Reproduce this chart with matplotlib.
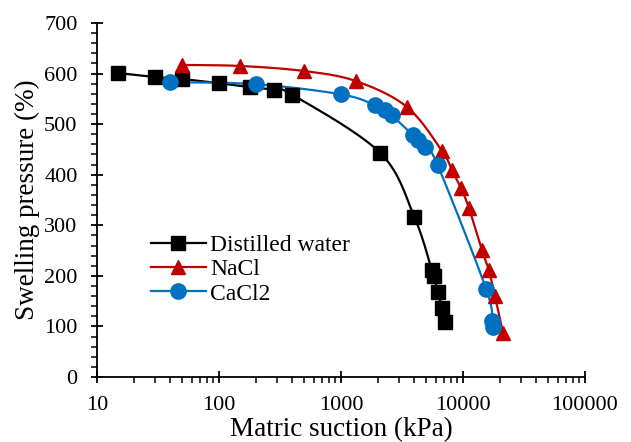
import numpy as np
import matplotlib
matplotlib.use('Agg')
import matplotlib.pyplot as plt
from matplotlib.ticker import MultipleLocator, FixedLocator, NullFormatter

plt.rcParams['font.family'] = ['Liberation Serif', 'DejaVu Serif']

# data
water_x = [15, 30, 50, 100, 180, 280, 400, 2100, 4000, 5570, 5780, 6240, 6730, 7110]
water_y = [601, 593, 589, 581, 573, 568, 558, 443, 316, 211, 199, 168, 137, 108]

nacl_x = [50, 150, 500, 1330, 3475, 6730, 8130, 9640, 11200, 14300, 16300, 18300, 21300]
nacl_y = [617, 615, 605, 585, 534, 447, 409, 373, 334, 251, 211, 160, 87]

cacl_x = [40, 200, 1000, 1900, 2300, 2600, 3900, 4300, 4900, 6200, 15500, 17300, 17700]
cacl_y = [583, 579, 559, 538, 528, 518, 478, 468, 455, 419, 174, 111, 99]

labels = ['Distilled water', 'NaCl', 'CaCl2']
colors = ['black', '#C00000', '#0070C0']
markers = ['s', '^', 'o']


def smooth(xs, ys, n=20):
    # catmull-rom in (log x, y), like excel smoothed lines
    px = np.log10(np.array(xs, dtype=float))
    py = np.array(ys, dtype=float)
    P = np.column_stack([px, py])
    P = np.vstack([P[0], P, P[-1]])
    out = []
    for i in range(1, len(P) - 2):
        p0, p1, p2, p3 = P[i - 1], P[i], P[i + 1], P[i + 2]
        c1 = p1 + (p2 - p0) / 6.0
        c2 = p2 - (p3 - p1) / 6.0
        t = np.linspace(0, 1, n)[:, None]
        seg = (1 - t) ** 3 * p1 + 3 * (1 - t) ** 2 * t * c1 + 3 * (1 - t) * t ** 2 * c2 + t ** 3 * p2
        out.append(seg)
    out = np.vstack(out)
    return 10 ** out[:, 0], out[:, 1]


fig = plt.figure(figsize=(6.31, 4.42), dpi=100)
ax = fig.add_axes([0.1537, 0.147, 0.7733, 0.801])

series = [(water_x, water_y), (nacl_x, nacl_y), (cacl_x, cacl_y)]
msizes = [10, 10.5, 11]
for (xs, ys), lab, c, m, ms in zip(series, labels, colors, markers, msizes):
    sx, sy = smooth(xs, ys)
    ax.plot(sx, sy, color=c, lw=1.6, zorder=2)
    ax.plot(xs, ys, ls='none', marker=m, color=c, ms=ms, zorder=3)
    ax.plot([], [], color=c, lw=1.6, marker=m, ms=ms, label=lab)

ax.set_xscale('log')
ax.set_xlim(10, 100000)
ax.set_ylim(0, 700)
ax.set_xticks([10, 100, 1000, 10000, 100000])
ax.set_xticklabels(['10', '100', '1000', '10000', '100000'])
minors = [d * 10 ** k for k in range(1, 5) for d in range(2, 10)]
ax.xaxis.set_minor_locator(FixedLocator(minors))
ax.xaxis.set_minor_formatter(NullFormatter())
ax.yaxis.set_major_locator(MultipleLocator(100))
ax.yaxis.set_minor_locator(MultipleLocator(20))

ax.spines['top'].set_visible(False)
ax.spines['right'].set_visible(False)
for s in ['left', 'bottom']:
    ax.spines[s].set_linewidth(1.3)
ax.tick_params(which='major', direction='inout', length=8, width=1.3, labelsize=16, pad=10)
ax.tick_params(which='minor', direction='out', length=4.5, width=1.1)

ax.set_xlabel('Matric suction (kPa)', fontsize=19.5, labelpad=1)
ax.set_ylabel('Swelling pressure (%)', fontsize=19.5, labelpad=3)

ax.legend(loc='upper left', bbox_to_anchor=(0.087, 0.436), frameon=False, fontsize=17,
          handlelength=2.3, handletextpad=0.2, labelspacing=0.12, borderpad=0)

fig.savefig('out.png', dpi=100)
